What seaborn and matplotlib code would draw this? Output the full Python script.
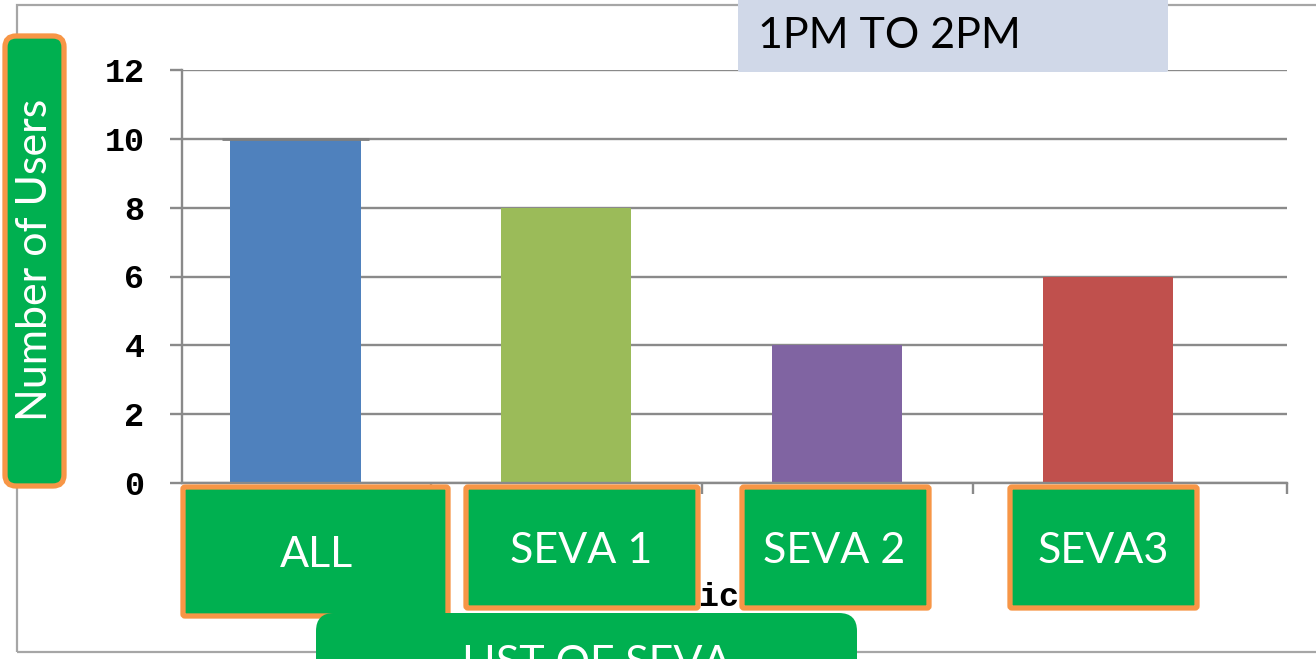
import pandas as pd
import seaborn as sns
import matplotlib.pyplot as plt
from matplotlib.patches import FancyBboxPatch, Rectangle

# data
categories = ['ALL', 'SEVA 1', 'SEVA 2', 'SEVA3']
users = [10, 8, 4, 6]
bar_colors = ['#4F81BD', '#9BBB59', '#8064A2', '#C0504D']
y_ticks = [0, 2, 4, 6, 8, 10, 12]
title_text = '1PM TO 2PM'
y_label = 'Number of Users'
x_label = 'LIST OF SEVA'
hidden_x_label = 'Services'

sns.set_theme(style='white')
plt.rcParams['font.family'] = ['Lato', 'DejaVu Sans']

W, H = 1316, 659
GREEN = '#00B050'
ORANGE = '#F79646'
GRID = '#8A8A8A'

fig = plt.figure(figsize=(W / 100, H / 100), dpi=100)
fig.patch.set_facecolor('white')

# outer frame
fig.patches.append(Rectangle((17, H - 652), 1400, 647, transform=None, fill=False,
                             edgecolor='#A6A6A6', linewidth=1.6, zorder=0))

ax = fig.add_axes([182 / W, 1 - 483 / H, (1287 - 182) / W, (483 - 70) / H])
ax.set_facecolor('none')

df = pd.DataFrame({'seva': categories, 'users': users})
sns.barplot(data=df, x='seva', y='users', hue='seva', palette=bar_colors,
            saturation=1, width=0.48, legend=False, linewidth=0, ax=ax)

# darker cap line sitting on the first bar
first = ax.patches[0]
ax.hlines(users[0], first.get_x() - 0.03, first.get_x() + first.get_width() + 0.03,
          color='#7F7F7F', linewidth=2, zorder=4)

ax.set_xlim(-0.419, 3.66)
ax.set_ylim(0, 12)
ax.set_yticks(y_ticks)
ax.set_axisbelow(True)
ax.grid(axis='y', color=GRID, linewidth=1.7)
ax.grid(axis='x', visible=False)
for s in ['top', 'right']:
    ax.spines[s].set_visible(False)
for s in ['left', 'bottom']:
    ax.spines[s].set_color(GRID)
    ax.spines[s].set_linewidth(1.7)

ax.set_xticks(range(len(categories)))
ax.set_xticklabels([])
ax.tick_params(axis='x', which='major', length=0)
ax.set_xticks([0.5, 1.5, 2.5, 3.66], minor=True)
ax.tick_params(axis='x', which='minor', length=8, width=1.7, color=GRID, direction='out', bottom=True)
ax.tick_params(axis='y', length=9, width=1.7, color=GRID, direction='out', left=True, pad=18)
for lab in ax.get_yticklabels():
    lab.set_fontfamily('Liberation Mono')
    lab.set_fontweight('bold')
    lab.set_fontsize(24)
    lab.set_color('black')
ax.set_xlabel('')
ax.set_ylabel('')

# leftover axis title mostly hidden behind the label boxes
fig.text(699, H - 606, hidden_x_label, transform=None, ha='center', va='baseline',
         family='Liberation Mono', weight='bold', fontsize=24, color='black', zorder=1)


def box(x0, y0, x1, y1, face, edge=None, lw=0, r=2):
    fig.patches.append(FancyBboxPatch((x0, H - y1), x1 - x0, y1 - y0, transform=None,
                                      boxstyle=f'round,pad=0,rounding_size={r}',
                                      facecolor=face, edgecolor=edge if edge else face,
                                      linewidth=lw, zorder=2))


def label(x, y, s, color='white', ha='center', rot=0, va='baseline'):
    fig.text(x, H - y, s, transform=None, ha=ha, va=va, rotation=rot,
             fontsize=31, color=color, zorder=5)


# title box
box(738, -10, 1168, 72, '#D0D8E8')
label(758, 48, title_text, color='black', ha='left')

# y label box
box(5, 36, 64, 486, GREEN, ORANGE, 3.8, 11)
label(35, 260, y_label, rot=90, va='center')

# category boxes
cat_boxes = [(183, 487, 448, 616), (466, 487, 698, 608), (742, 487, 929, 608), (1010, 487, 1197, 608)]
cat_text = [(316, 567), (581, 563), (834, 563), (1103, 563)]
for (x0, y0, x1, y1), (tx, ty), name in zip(cat_boxes, cat_text, categories):
    box(x0, y0, x1, y1, GREEN, ORANGE, 3.8, 2)
    label(tx, ty, name)

# x label box, cut off by the bottom edge in the original
box(316, 613, 857, 720, GREEN, None, 0, 18)
label(462, 676, x_label, ha='left')

fig.savefig('out.png', dpi=100)
